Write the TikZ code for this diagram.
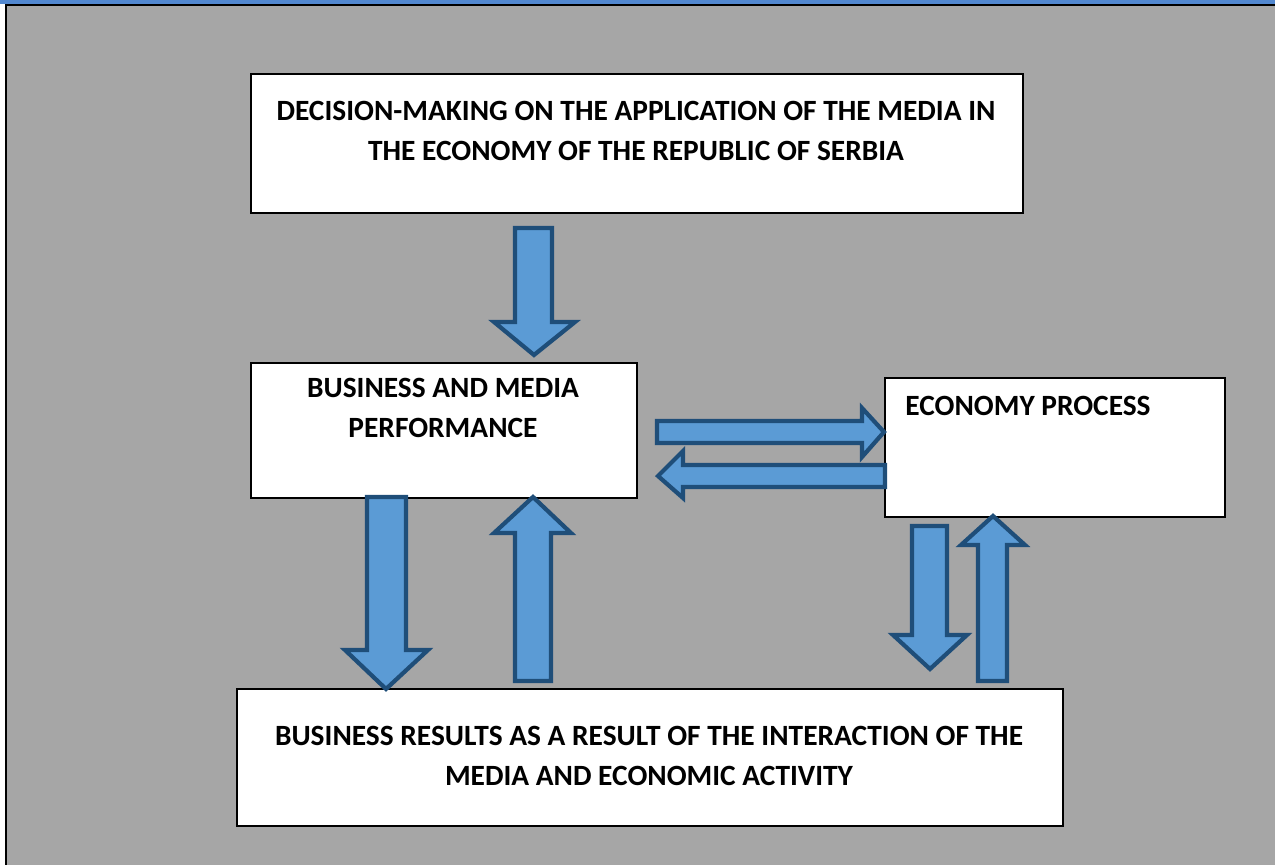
\documentclass[tikz,border=0pt]{standalone}
\usepackage{fontspec}
\setmainfont{Carlito}
\definecolor{bandblue}{RGB}{82,136,208}
\definecolor{panelgray}{RGB}{166,166,166}
\definecolor{arrowfill}{RGB}{91,155,213}
\definecolor{arrowline}{RGB}{31,78,121}
\begin{document}
\begin{tikzpicture}[x=0.5pt,y=-0.5pt,
  boxstyle/.style={draw=black,line width=0.8pt,fill=white,rectangle,inner sep=0pt,anchor=north west},
  labelstyle/.style={font=\fontsize{14.7}{20}\selectfont\bfseries,align=center,inner sep=0pt},
  blockarrow/.style={fill=arrowfill,draw=arrowline,line width=2.1pt,line join=miter}]
\useasboundingbox (0,0) rectangle (1275,865);
% background
\fill[bandblue] (0,0) rectangle (1275,4);
\fill[white] (0,4) rectangle (5,865);
\fill[panelgray] (6,5) rectangle (1275,865);
\draw[black,line width=1.1pt] (6,865) -- (6,5) -- (1275,5);
% boxes
\node[boxstyle,minimum width=386pt,minimum height=69.5pt] (top) at (250,73) {};
\node[boxstyle,minimum width=193pt,minimum height=67.5pt] (mid) at (250,362) {};
\node[boxstyle,minimum width=170pt,minimum height=69.5pt] (eco) at (884,377) {};
\node[boxstyle,minimum width=413pt,minimum height=68.5pt] (bot) at (236,688) {};
% texts
\node[labelstyle] (toptext) at (636,131) {DECISION-MAKING ON THE APPLICATION OF THE MEDIA IN\\THE ECONOMY OF THE REPUBLIC OF SERBIA};
\node[labelstyle] (midtext) at (443,408) {BUSINESS AND MEDIA\\PERFORMANCE};
\node[labelstyle,anchor=west] (ecotext) at (905,406) {ECONOMY PROCESS};
\node[labelstyle] (bottext) at (649,756) {BUSINESS RESULTS AS A RESULT OF THE INTERACTION OF THE\\MEDIA AND ECONOMIC ACTIVITY};
% block arrows
% top down arrow
\draw[blockarrow] (515,228) -- (552,228) -- (552,322) -- (575,322) -- (534,355) -- (494,322) -- (515,322) -- cycle;
% left down arrow
\draw[blockarrow] (367,497) -- (406,497) -- (406,650) -- (428,650) -- (386,689) -- (345,650) -- (367,650) -- cycle;
% left up arrow
\draw[blockarrow] (533,497) -- (571,533) -- (551,533) -- (551,681) -- (515,681) -- (515,533) -- (494,533) -- cycle;
% right arrow
\draw[blockarrow] (657,421) -- (862,421) -- (862,408) -- (884,432) -- (862,457) -- (862,443) -- (657,443) -- cycle;
% left arrow
\draw[blockarrow] (885,465) -- (683,465) -- (683,451) -- (658,476) -- (683,498) -- (683,487) -- (885,487) -- cycle;
% right down arrow
\draw[blockarrow] (912,526) -- (947,526) -- (947,635) -- (967,635) -- (930,669) -- (893,635) -- (912,635) -- cycle;
% right up arrow
\draw[blockarrow] (993,516) -- (1025,545) -- (1007,545) -- (1007,681) -- (978,681) -- (978,545) -- (961,545) -- cycle;
\end{tikzpicture}
\end{document}
